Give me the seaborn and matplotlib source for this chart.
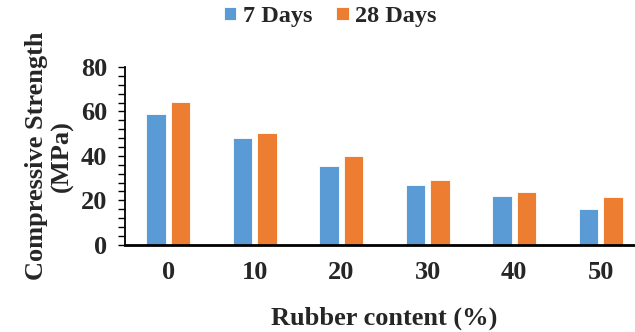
import pandas as pd
import numpy as np
import matplotlib
matplotlib.use("Agg")
import matplotlib.pyplot as plt
from matplotlib.ticker import MultipleLocator
import seaborn as sb

# data
rubber = ["0", "10", "20", "30", "40", "50"]
days7 = [58.7, 48.0, 35.3, 26.9, 22.1, 16.1]
days28 = [64.1, 50.4, 39.8, 29.1, 23.7, 21.3]
series = ["7 Days", "28 Days"]
colors = ["#5B9BD5", "#ED7D31"]

data = pd.DataFrame({
    "Rubber": rubber * 2,
    "Strength": days7 + days28,
    "Age": [series[0]] * len(rubber) + [series[1]] * len(rubber),
})

sb.set_style("white")
plt.rcParams["font.family"] = ["Liberation Serif", "DejaVu Serif"]
plt.rcParams["font.weight"] = "bold"

fig = plt.figure(figsize=(6.35, 3.32), dpi=100)
ax = fig.add_axes([0.197, 0.263, 0.817, 0.535])

sb.barplot(data=data, x="Rubber", y="Strength", hue="Age", palette=colors,
           saturation=1, width=0.57, gap=0.21, edgecolor="white",
           linewidth=0.6, ax=ax)

ax.set_ylim(0, 80)
ax.set_xlim(-0.5, 5.5)
ax.yaxis.set_major_locator(MultipleLocator(20))
ax.yaxis.set_minor_locator(MultipleLocator(4))
ax.tick_params(axis="y", which="both", direction="out", length=5, width=1,
               left=True, labelsize=19, pad=8, color="black")
ax.tick_params(axis="x", length=0, labelsize=19, pad=12)
for lab in ax.get_xticklabels() + ax.get_yticklabels():
    lab.set_fontweight("bold")

for s in ["top", "right"]:
    ax.spines[s].set_visible(False)
ax.spines["left"].set_color("black")
ax.spines["left"].set_linewidth(1.3)
ax.spines["bottom"].set_color("black")
ax.spines["bottom"].set_linewidth(2)

ax.set_xlabel("Rubber content (%)", fontsize=19, fontweight="bold", labelpad=16)
ax.set_ylabel("Compressive Strength\n(MPa)", fontsize=19, fontweight="bold",
              labelpad=5, linespacing=1.15)

handles, labels = ax.get_legend_handles_labels()
ax.legend(handles, labels, loc="center", bbox_to_anchor=(0.52, 0.95),
          bbox_transform=fig.transFigure, ncol=2, frameon=False,
          handlelength=0.5, handleheight=0.5, handletextpad=0.25,
          columnspacing=1.0, prop={"size": 17.5, "weight": "bold"})

plt.savefig("out.png", dpi=100)
